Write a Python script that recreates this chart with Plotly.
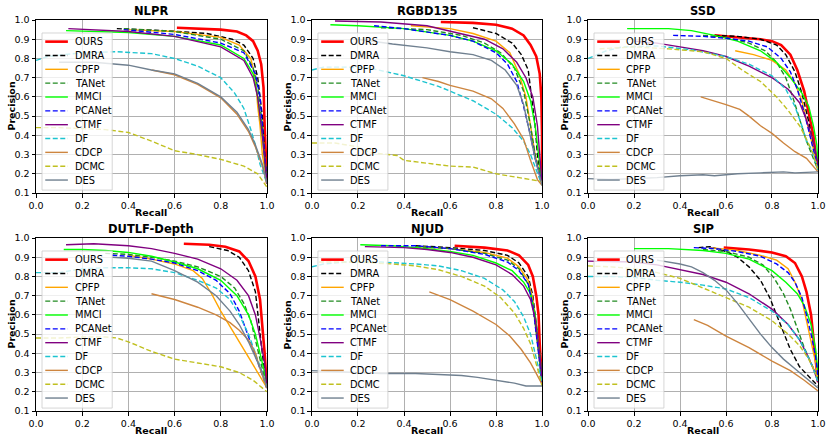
import plotly.graph_objects as go

methods = ["OURS", "DMRA", "CPFP", "TANet", "MMCI", "PCANet", "CTMF", "DF", "CDCP", "DCMC", "DES"]
colors = ["#ff0000", "#000000", "#ffa500", "#228b22", "#00ff00", "#0000ff",
          "#800080", "#1cc4d0", "#cd853f", "#c0c020", "#708090"]
dashes = ["solid", "dash", "solid", "dash", "solid", "dash",
          "solid", "dash", "solid", "dash", "solid"]
datasets = ["NLPR", "RGBD135", "SSD", "DUTLF-Depth", "NJUD", "SIP"]

# (recall, precision) points
NLPR = {
    "OURS": [(0.61, 0.96), (0.7, 0.955), (0.8, 0.95), (0.87, 0.94), (0.91, 0.92), (0.94, 0.89),
             (0.96, 0.84), (0.975, 0.77), (0.985, 0.65), (0.99, 0.45), (0.995, 0.3), (1.0, 0.15)],
    "DMRA": [(0.35, 0.955), (0.55, 0.945), (0.74, 0.93), (0.85, 0.9), (0.9, 0.87), (0.94, 0.8),
             (0.96, 0.7), (0.98, 0.5), (0.99, 0.3), (1.0, 0.15)],
    "CPFP": [(0.38, 0.95), (0.6, 0.94), (0.8, 0.91), (0.88, 0.87), (0.93, 0.8), (0.95, 0.7),
             (0.96, 0.55), (0.97, 0.45), (0.98, 0.3), (1.0, 0.15)],
    "TANet": [(0.38, 0.955), (0.6, 0.94), (0.8, 0.9), (0.9, 0.84), (0.94, 0.75), (0.96, 0.65),
              (0.98, 0.45), (1.0, 0.15)],
    "MMCI": [(0.13, 0.945), (0.4, 0.935), (0.6, 0.915), (0.8, 0.87), (0.9, 0.8), (0.94, 0.72),
             (0.96, 0.6), (0.98, 0.4), (1.0, 0.15)],
    "PCANet": [(0.38, 0.95), (0.6, 0.925), (0.8, 0.88), (0.9, 0.83), (0.95, 0.72), (0.97, 0.6),
               (0.98, 0.45), (1.0, 0.15)],
    "CTMF": [(0.14, 0.955), (0.4, 0.94), (0.6, 0.915), (0.8, 0.86), (0.9, 0.79), (0.94, 0.7),
             (0.96, 0.6), (0.98, 0.4), (1.0, 0.15)],
    "DF": [(0.0, 0.79), (0.05, 0.81), (0.2, 0.83), (0.35, 0.835), (0.5, 0.825), (0.6, 0.8),
           (0.7, 0.76), (0.8, 0.7), (0.86, 0.62), (0.9, 0.54), (0.93, 0.43), (0.95, 0.35),
           (0.97, 0.25), (1.0, 0.15)],
    "CDCP": [(0.5, 0.74), (0.6, 0.715), (0.7, 0.665), (0.8, 0.595), (0.87, 0.51), (0.92, 0.42),
             (0.95, 0.34), (0.98, 0.24), (1.0, 0.15)],
    "DCMC": [(0.0, 0.44), (0.1, 0.44), (0.2, 0.435), (0.3, 0.43), (0.4, 0.415), (0.5, 0.37),
             (0.6, 0.32), (0.7, 0.3), (0.8, 0.275), (0.9, 0.24), (0.96, 0.2), (1.0, 0.13)],
    "DES": [(0.1, 0.78), (0.25, 0.78), (0.4, 0.765), (0.5, 0.74), (0.6, 0.72), (0.7, 0.67),
            (0.8, 0.6), (0.87, 0.52), (0.92, 0.43), (0.95, 0.35), (0.98, 0.25), (1.0, 0.15)],
}

RGBD135 = {
    "OURS": [(0.56, 0.99), (0.7, 0.985), (0.8, 0.975), (0.87, 0.955), (0.92, 0.92), (0.95, 0.87),
             (0.975, 0.81), (0.99, 0.72), (0.997, 0.6), (1.0, 0.4), (1.0, 0.15)],
    "DMRA": [(0.7, 0.96), (0.8, 0.93), (0.87, 0.88), (0.91, 0.82), (0.94, 0.74), (0.955, 0.6),
             (0.97, 0.45), (0.98, 0.3), (1.0, 0.15)],
    "CPFP": [(0.43, 0.97), (0.6, 0.955), (0.7, 0.93), (0.8, 0.89), (0.86, 0.83), (0.9, 0.72),
             (0.93, 0.6), (0.95, 0.45), (0.97, 0.3), (1.0, 0.15)],
    "TANet": [(0.3, 0.96), (0.5, 0.95), (0.65, 0.92), (0.75, 0.88), (0.82, 0.83), (0.88, 0.75),
              (0.92, 0.63), (0.95, 0.45), (0.97, 0.3), (1.0, 0.15)],
    "MMCI": [(0.08, 0.975), (0.2, 0.97), (0.4, 0.955), (0.6, 0.92), (0.7, 0.89), (0.8, 0.84),
             (0.87, 0.77), (0.92, 0.68), (0.95, 0.58), (0.97, 0.45), (0.985, 0.3), (1.0, 0.15)],
    "PCANet": [(0.27, 0.97), (0.4, 0.955), (0.6, 0.92), (0.7, 0.89), (0.8, 0.83), (0.85, 0.77),
               (0.89, 0.68), (0.92, 0.55), (0.95, 0.4), (0.97, 0.28), (1.0, 0.15)],
    "CTMF": [(0.1, 0.995), (0.3, 0.99), (0.5, 0.97), (0.65, 0.93), (0.75, 0.9), (0.83, 0.85),
             (0.89, 0.78), (0.93, 0.7), (0.96, 0.6), (0.98, 0.45), (0.99, 0.3), (1.0, 0.15)],
    "DF": [(0.0, 0.74), (0.05, 0.755), (0.15, 0.755), (0.25, 0.75), (0.4, 0.71), (0.55, 0.655),
           (0.7, 0.58), (0.8, 0.51), (0.87, 0.44), (0.92, 0.37), (0.95, 0.3), (0.98, 0.2),
           (1.0, 0.14)],
    "CDCP": [(0.48, 0.7), (0.55, 0.68), (0.6, 0.66), (0.7, 0.63), (0.78, 0.59), (0.83, 0.54),
             (0.88, 0.46), (0.92, 0.38), (0.95, 0.27), (0.98, 0.17), (1.0, 0.14)],
    "DCMC": [(0.0, 0.36), (0.1, 0.36), (0.2, 0.34), (0.25, 0.31), (0.37, 0.295), (0.4, 0.27),
             (0.5, 0.255), (0.6, 0.24), (0.7, 0.235), (0.8, 0.2), (0.9, 0.18), (1.0, 0.16)],
    "DES": [(0.2, 0.9), (0.35, 0.875), (0.5, 0.855), (0.6, 0.835), (0.7, 0.82), (0.78, 0.79),
            (0.84, 0.74), (0.89, 0.66), (0.92, 0.56), (0.95, 0.4), (0.97, 0.28), (1.0, 0.14)],
}

SSD = {
    "OURS": [(0.55, 0.92), (0.65, 0.91), (0.75, 0.9), (0.8, 0.89), (0.84, 0.87), (0.88, 0.82),
             (0.91, 0.74), (0.94, 0.63), (0.96, 0.52), (0.98, 0.4), (0.99, 0.3), (1.0, 0.23)],
    "DMRA": [(0.55, 0.92), (0.65, 0.915), (0.75, 0.9), (0.82, 0.87), (0.86, 0.82), (0.9, 0.73),
             (0.93, 0.62), (0.96, 0.47), (0.98, 0.35), (1.0, 0.23)],
    "CPFP": [(0.64, 0.84), (0.72, 0.82), (0.8, 0.79), (0.86, 0.74), (0.9, 0.67), (0.93, 0.58),
             (0.95, 0.48), (0.97, 0.38), (1.0, 0.23)],
    "TANet": [(0.5, 0.92), (0.6, 0.91), (0.7, 0.88), (0.77, 0.84), (0.82, 0.78), (0.86, 0.7),
              (0.89, 0.6), (0.92, 0.48), (0.95, 0.37), (0.98, 0.28), (1.0, 0.22)],
    "MMCI": [(0.17, 0.955), (0.35, 0.955), (0.45, 0.945), (0.55, 0.92), (0.65, 0.89), (0.75, 0.84),
             (0.82, 0.78), (0.88, 0.7), (0.93, 0.62), (0.96, 0.55), (0.98, 0.45), (0.995, 0.35),
             (1.0, 0.25)],
    "PCANet": [(0.37, 0.92), (0.5, 0.915), (0.6, 0.905), (0.7, 0.89), (0.78, 0.86), (0.84, 0.8),
               (0.88, 0.73), (0.91, 0.64), (0.94, 0.52), (0.96, 0.42), (0.98, 0.33), (1.0, 0.23)],
    "CTMF": [(0.2, 0.89), (0.3, 0.88), (0.4, 0.86), (0.5, 0.84), (0.6, 0.81), (0.7, 0.76),
             (0.8, 0.7), (0.87, 0.64), (0.92, 0.57), (0.95, 0.48), (0.98, 0.37), (1.0, 0.25)],
    "DF": [(0.0, 0.8), (0.08, 0.84), (0.15, 0.86), (0.3, 0.865), (0.45, 0.845), (0.6, 0.81),
           (0.7, 0.77), (0.8, 0.71), (0.86, 0.64), (0.9, 0.55), (0.93, 0.45), (0.95, 0.37),
           (0.97, 0.33), (1.0, 0.22)],
    "CDCP": [(0.49, 0.6), (0.55, 0.58), (0.6, 0.56), (0.66, 0.535), (0.7, 0.5), (0.75, 0.45),
             (0.8, 0.41), (0.85, 0.36), (0.9, 0.315), (0.95, 0.28), (1.0, 0.21)],
    "DCMC": [(0.05, 0.85), (0.2, 0.86), (0.35, 0.85), (0.5, 0.835), (0.6, 0.8), (0.67, 0.74),
             (0.75, 0.68), (0.82, 0.6), (0.87, 0.53), (0.92, 0.45), (0.95, 0.38), (0.98, 0.3),
             (1.0, 0.22)],
    "DES": [(0.0, 0.175), (0.1, 0.17), (0.2, 0.175), (0.3, 0.18), (0.4, 0.19), (0.5, 0.195),
            (0.55, 0.19), (0.65, 0.2), (0.75, 0.205), (0.85, 0.21), (0.9, 0.205), (1.0, 0.21)],
}

DUTLF = {
    "OURS": [(0.64, 0.97), (0.75, 0.965), (0.82, 0.955), (0.88, 0.93), (0.92, 0.88), (0.95, 0.8),
             (0.97, 0.68), (0.98, 0.55), (0.99, 0.4), (1.0, 0.22)],
    "DMRA": [(0.75, 0.955), (0.83, 0.935), (0.88, 0.9), (0.92, 0.83), (0.95, 0.72), (0.96, 0.6),
             (0.975, 0.45), (0.99, 0.3), (1.0, 0.22)],
    "CPFP": [(0.4, 0.91), (0.5, 0.89), (0.6, 0.865), (0.68, 0.83), (0.72, 0.79), (0.76, 0.71),
             (0.8, 0.62), (0.85, 0.52), (0.9, 0.42), (0.95, 0.32), (1.0, 0.22)],
    "TANet": [(0.3, 0.92), (0.4, 0.915), (0.5, 0.9), (0.6, 0.88), (0.7, 0.85), (0.8, 0.8),
              (0.86, 0.74), (0.9, 0.66), (0.93, 0.57), (0.95, 0.47), (0.97, 0.37), (1.0, 0.22)],
    "MMCI": [(0.12, 0.94), (0.2, 0.94), (0.3, 0.935), (0.4, 0.925), (0.5, 0.905), (0.6, 0.875),
             (0.7, 0.84), (0.8, 0.78), (0.87, 0.7), (0.92, 0.6), (0.95, 0.5), (0.97, 0.4),
             (0.99, 0.3), (1.0, 0.22)],
    "PCANet": [(0.33, 0.91), (0.4, 0.905), (0.5, 0.89), (0.6, 0.87), (0.7, 0.83), (0.78, 0.78),
               (0.84, 0.71), (0.88, 0.62), (0.91, 0.52), (0.94, 0.42), (0.97, 0.33), (1.0, 0.22)],
    "CTMF": [(0.13, 0.965), (0.25, 0.97), (0.4, 0.96), (0.5, 0.945), (0.6, 0.92), (0.7, 0.89),
             (0.8, 0.84), (0.87, 0.78), (0.92, 0.7), (0.95, 0.6), (0.97, 0.48), (0.99, 0.35),
             (1.0, 0.22)],
    "DF": [(0.0, 0.82), (0.1, 0.82), (0.2, 0.84), (0.3, 0.845), (0.4, 0.845), (0.5, 0.84),
           (0.6, 0.82), (0.7, 0.78), (0.78, 0.74), (0.84, 0.68), (0.88, 0.6), (0.92, 0.5),
           (0.95, 0.4), (0.98, 0.3), (1.0, 0.22)],
    "CDCP": [(0.5, 0.71), (0.6, 0.68), (0.7, 0.64), (0.78, 0.6), (0.84, 0.56), (0.88, 0.52),
             (0.92, 0.47), (0.95, 0.4), (0.97, 0.32), (1.0, 0.22)],
    "DCMC": [(0.0, 0.48), (0.1, 0.48), (0.2, 0.485), (0.3, 0.485), (0.35, 0.48), (0.4, 0.46),
             (0.5, 0.41), (0.6, 0.37), (0.7, 0.35), (0.8, 0.33), (0.88, 0.3), (0.94, 0.26),
             (1.0, 0.2)],
    "DES": [(0.33, 0.9), (0.4, 0.895), (0.5, 0.88), (0.6, 0.83), (0.7, 0.77), (0.78, 0.7),
            (0.84, 0.62), (0.88, 0.55), (0.92, 0.46), (0.95, 0.38), (0.98, 0.3), (1.0, 0.22)],
}

NJUD = {
    "OURS": [(0.62, 0.96), (0.75, 0.95), (0.85, 0.935), (0.9, 0.91), (0.94, 0.86), (0.96, 0.8),
             (0.975, 0.7), (0.985, 0.6), (0.99, 0.45), (1.0, 0.25)],
    "DMRA": [(0.45, 0.96), (0.6, 0.95), (0.75, 0.935), (0.85, 0.91), (0.9, 0.87), (0.94, 0.8),
             (0.96, 0.7), (0.975, 0.55), (0.99, 0.4), (1.0, 0.25)],
    "CPFP": [(0.45, 0.955), (0.6, 0.945), (0.75, 0.925), (0.85, 0.895), (0.9, 0.85), (0.94, 0.78),
             (0.96, 0.68), (0.975, 0.5), (0.99, 0.35), (1.0, 0.25)],
    "TANet": [(0.45, 0.955), (0.6, 0.945), (0.75, 0.92), (0.85, 0.885), (0.9, 0.84), (0.94, 0.76),
              (0.96, 0.66), (0.975, 0.5), (0.99, 0.35), (1.0, 0.25)],
    "MMCI": [(0.21, 0.965), (0.35, 0.96), (0.5, 0.945), (0.6, 0.93), (0.7, 0.91), (0.8, 0.87),
             (0.87, 0.83), (0.92, 0.77), (0.95, 0.71), (0.97, 0.6), (0.985, 0.45), (1.0, 0.28)],
    "PCANet": [(0.3, 0.96), (0.45, 0.96), (0.6, 0.945), (0.75, 0.915), (0.85, 0.875), (0.9, 0.83),
               (0.94, 0.76), (0.96, 0.65), (0.975, 0.5), (0.99, 0.35), (1.0, 0.25)],
    "CTMF": [(0.23, 0.955), (0.4, 0.95), (0.5, 0.94), (0.6, 0.925), (0.7, 0.9), (0.8, 0.86),
             (0.87, 0.81), (0.92, 0.75), (0.95, 0.68), (0.97, 0.58), (0.985, 0.45), (1.0, 0.28)],
    "DF": [(0.0, 0.85), (0.05, 0.865), (0.15, 0.875), (0.3, 0.875), (0.45, 0.865), (0.55, 0.855),
           (0.65, 0.83), (0.75, 0.79), (0.83, 0.73), (0.88, 0.67), (0.92, 0.59), (0.95, 0.5),
           (0.97, 0.4), (0.99, 0.3), (1.0, 0.25)],
    "CDCP": [(0.51, 0.72), (0.6, 0.68), (0.7, 0.62), (0.8, 0.55), (0.86, 0.49), (0.91, 0.42),
             (0.95, 0.35), (0.98, 0.28), (1.0, 0.24)],
    "DCMC": [(0.03, 0.875), (0.2, 0.875), (0.35, 0.865), (0.45, 0.855), (0.55, 0.835), (0.65, 0.8),
             (0.75, 0.75), (0.82, 0.69), (0.88, 0.61), (0.92, 0.53), (0.95, 0.45), (0.97, 0.37),
             (0.99, 0.28), (1.0, 0.23)],
    "DES": [(0.0, 0.31), (0.1, 0.305), (0.2, 0.3), (0.3, 0.295), (0.45, 0.295), (0.55, 0.29),
            (0.65, 0.285), (0.72, 0.275), (0.8, 0.26), (0.88, 0.245), (0.93, 0.23), (0.97, 0.23),
            (1.0, 0.23)],
}

SIP = {
    "OURS": [(0.59, 0.95), (0.7, 0.94), (0.8, 0.925), (0.86, 0.905), (0.9, 0.87), (0.93, 0.8),
             (0.95, 0.72), (0.97, 0.6), (0.98, 0.48), (0.99, 0.35), (1.0, 0.25)],
    "DMRA": [(0.48, 0.95), (0.53, 0.955), (0.6, 0.93), (0.65, 0.9), (0.7, 0.85), (0.75, 0.78),
             (0.79, 0.69), (0.82, 0.6), (0.85, 0.5), (0.88, 0.42), (0.92, 0.33), (0.96, 0.28),
             (1.0, 0.23)],
    "CPFP": [(0.53, 0.95), (0.65, 0.935), (0.75, 0.91), (0.82, 0.885), (0.87, 0.84), (0.9, 0.77),
             (0.93, 0.68), (0.95, 0.57), (0.97, 0.45), (0.99, 0.35), (1.0, 0.27)],
    "TANet": [(0.5, 0.94), (0.6, 0.93), (0.7, 0.9), (0.76, 0.86), (0.81, 0.79), (0.85, 0.71),
              (0.88, 0.63), (0.91, 0.53), (0.94, 0.43), (0.97, 0.35), (1.0, 0.27)],
    "MMCI": [(0.2, 0.945), (0.35, 0.945), (0.5, 0.935), (0.6, 0.92), (0.7, 0.89), (0.8, 0.83),
             (0.86, 0.77), (0.91, 0.71), (0.94, 0.65), (0.97, 0.55), (0.99, 0.42), (1.0, 0.3)],
    "PCANet": [(0.46, 0.95), (0.55, 0.945), (0.65, 0.93), (0.75, 0.905), (0.82, 0.865), (0.87, 0.82),
               (0.9, 0.77), (0.93, 0.69), (0.95, 0.6), (0.97, 0.5), (0.99, 0.38), (1.0, 0.28)],
    "CTMF": [(0.0, 0.88), (0.2, 0.875), (0.3, 0.86), (0.4, 0.835), (0.5, 0.81), (0.6, 0.77),
             (0.7, 0.71), (0.8, 0.63), (0.87, 0.55), (0.92, 0.47), (0.95, 0.4), (0.98, 0.32),
             (1.0, 0.25)],
    "DF": [(0.0, 0.8), (0.1, 0.8), (0.2, 0.795), (0.3, 0.78), (0.4, 0.77), (0.5, 0.755),
           (0.6, 0.735), (0.7, 0.69), (0.8, 0.62), (0.87, 0.55), (0.92, 0.47), (0.95, 0.4),
           (0.98, 0.32), (1.0, 0.25)],
    "CDCP": [(0.46, 0.575), (0.52, 0.545), (0.6, 0.49), (0.7, 0.43), (0.8, 0.36), (0.88, 0.31),
             (0.94, 0.26), (1.0, 0.205)],
    "DCMC": [(0.0, 0.855), (0.1, 0.85), (0.2, 0.84), (0.3, 0.82), (0.4, 0.79), (0.5, 0.74),
             (0.6, 0.69), (0.7, 0.64), (0.8, 0.57), (0.87, 0.5), (0.92, 0.44), (0.96, 0.37),
             (1.0, 0.27)],
    "DES": [(0.3, 0.885), (0.4, 0.865), (0.45, 0.85), (0.5, 0.82), (0.55, 0.78), (0.6, 0.73),
            (0.65, 0.66), (0.7, 0.58), (0.75, 0.5), (0.8, 0.43), (0.85, 0.37), (0.9, 0.32),
            (0.95, 0.27), (1.0, 0.22)],
}

panels = [NLPR, RGBD135, SSD, DUTLF, NJUD, SIP]

x_tick_vals = [0.0, 0.2, 0.4, 0.6, 0.8, 1.0]
y_tick_vals = [0.1, 0.2, 0.3, 0.4, 0.5, 0.6, 0.7, 0.8, 0.9, 1.0]

FONT = "DejaVu Sans"
x_dom = [(0.0436, 0.3232), (0.3777, 0.6562), (0.7119, 0.9903)]
y_dom = [(0.5573, 0.9541), (0.0573, 0.4541)]

fig = go.Figure()
shapes = []
annotations = []

for i, (name, curves) in enumerate(zip(datasets, panels)):
    row, col = divmod(i, 3)
    sfx = "" if i == 0 else str(i + 1)
    xd, yd = "x%s domain" % sfx, "y%s domain" % sfx

    for m, c, d in zip(methods, colors, dashes):
        pts = curves[m]
        w = 2.6 if m == "OURS" else 1.4
        fig.add_trace(go.Scatter(
            x=[p[0] for p in pts], y=[p[1] for p in pts],
            mode="lines", name=m, showlegend=False,
            line=dict(color=c, width=w, dash="5px,2.5px" if d == "dash" else "solid"),
            xaxis="x" + sfx, yaxis="y" + sfx,
        ))

    axis_common = dict(
        showgrid=True, gridcolor="#b0b0b0", gridwidth=0.8, zeroline=False,
        showline=True, mirror=True, linecolor="black", linewidth=1,
        ticks="outside", ticklen=3.5, tickcolor="black", tickwidth=0.8,
        tickfont=dict(family=FONT, size=9.5, color="black"), tickformat=".1f",
        automargin=False,
    )
    fig.update_layout(**{
        "xaxis" + sfx: dict(axis_common, domain=list(x_dom[col]), anchor="y" + sfx,
                            range=[0, 1], tickvals=x_tick_vals),
        "yaxis" + sfx: dict(axis_common, domain=list(y_dom[row]), anchor="x" + sfx,
                            range=[0.1, 1.0], tickvals=y_tick_vals),
    })

    # panel title and axis titles
    annotations.append(dict(
        text="<b>%s</b>" % name, xref=xd, yref=yd,
        x=0.5, y=1.0, xanchor="center", yanchor="bottom", showarrow=False,
        font=dict(family=FONT, size=11.5, color="black"),
    ))
    annotations.append(dict(
        text="<b>Recall</b>", xref=xd, yref=yd, x=0.5, y=0.0, yshift=-19,
        xanchor="center", yanchor="middle", showarrow=False,
        font=dict(family=FONT, size=9.5, color="black"),
    ))
    annotations.append(dict(
        text="<b>Precision</b>", xref=xd, yref=yd, x=0.0, y=0.5, xshift=-24,
        xanchor="center", yanchor="middle", textangle=-90, showarrow=False,
        font=dict(family=FONT, size=9.5, color="black"),
    ))

    # legend box drawn inside each panel
    shapes.append(dict(
        type="rect", xref=xd, yref=yd,
        x0=0.026, x1=0.33, y0=0.017, y1=0.925, layer="above",
        fillcolor="rgba(255,255,255,0.8)", line=dict(color="#cccccc", width=0.8),
    ))
    for j, (m, c, d) in enumerate(zip(methods, colors, dashes)):
        yy = 0.875 - j * 0.08
        shapes.append(dict(
            type="line", xref=xd, yref=yd,
            x0=0.04, x1=0.138, y0=yy, y1=yy, layer="above",
            line=dict(color=c, width=2.6 if m == "OURS" else 1.4,
                      dash="5px,2.5px" if d == "dash" else "solid"),
        ))
        annotations.append(dict(
            text=m, xref=xd, yref=yd,
            x=0.158, y=yy, xanchor="left", yanchor="middle", showarrow=False,
            font=dict(family=FONT, size=9.8, color="black"),
        ))

fig.update_layout(
    width=826, height=436,
    margin=dict(l=0, r=0, t=0, b=0),
    paper_bgcolor="white", plot_bgcolor="white",
    shapes=shapes, annotations=annotations,
    font=dict(family=FONT),
)

fig.write_html("out.html", config={"displayModeBar": False},
               post_script="document.body.style.margin='0';")
